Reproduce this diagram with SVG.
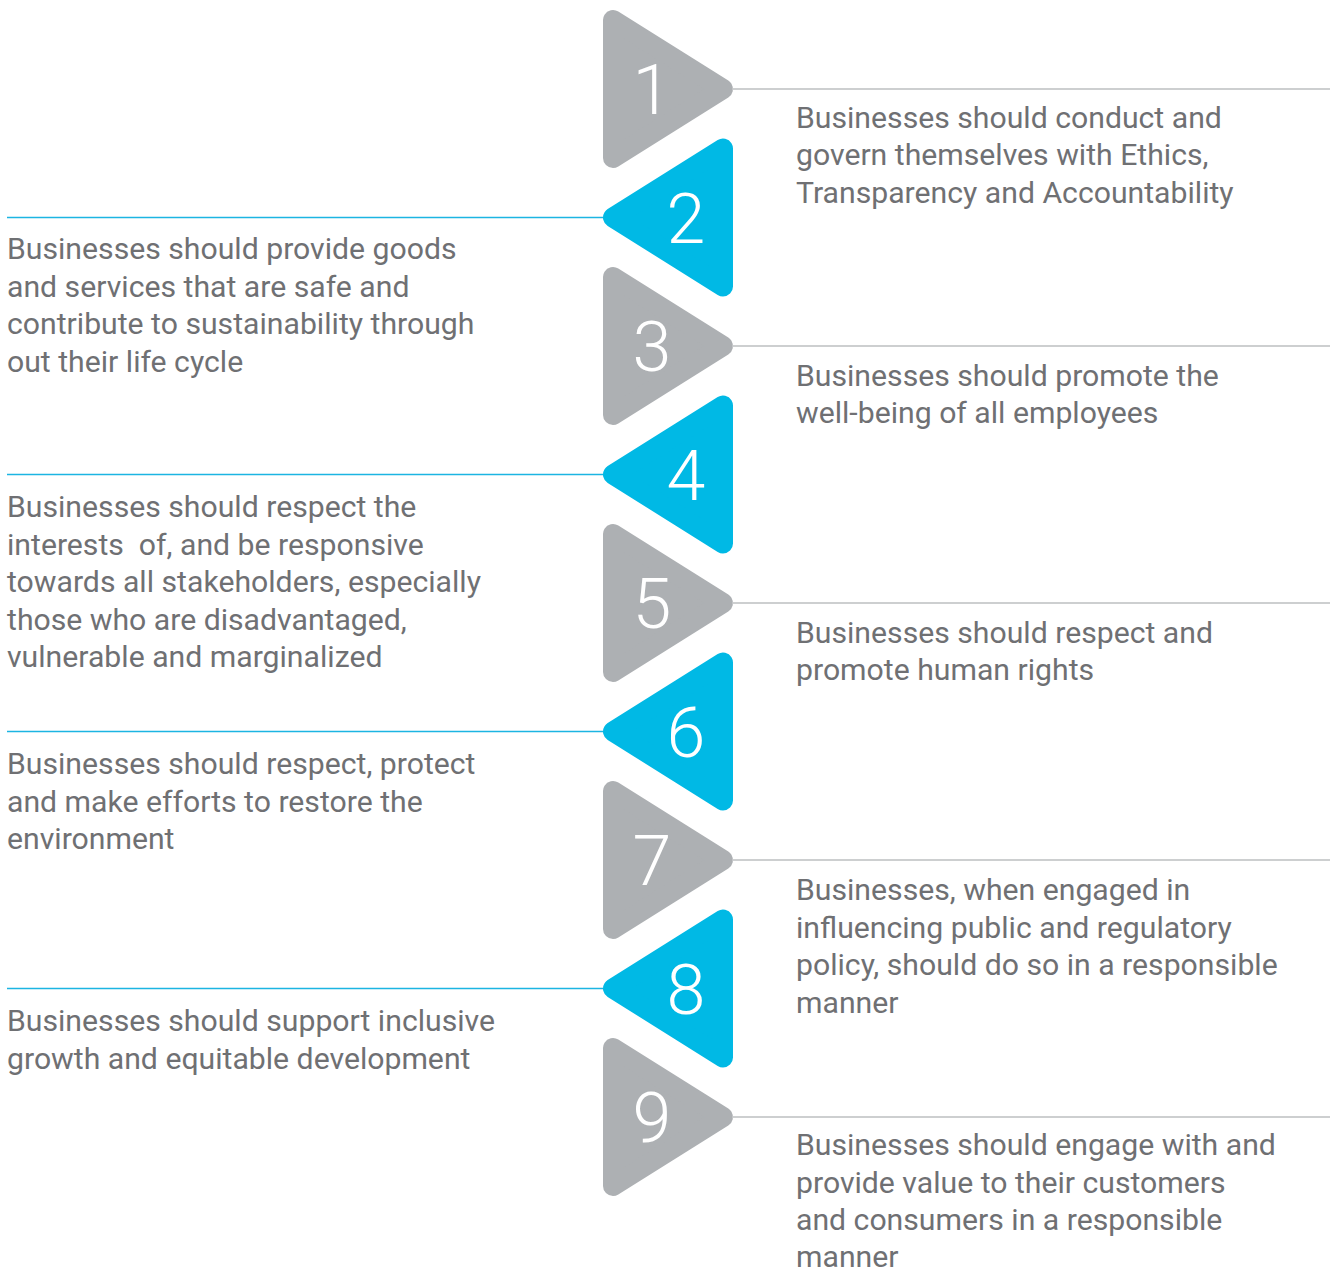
<svg xmlns="http://www.w3.org/2000/svg" width="1330" height="1272" viewBox="0 0 1330 1272">
  <style>
    .tri { stroke-width: 20; stroke-linejoin: round; }
    .grey { fill: #ADB0B3; stroke: #ADB0B3; }
    .blue { fill: #00B9E5; stroke: #00B9E5; }
    .num { font-family: Roboto, "Open Sans", sans-serif; font-weight: 300; font-size: 70px; fill: #FFFFFF; text-anchor: middle; }
    .txt { font-family: Roboto, "Liberation Sans", sans-serif; font-size: 30.2px; fill: #6F7073; }
    .lg { stroke: #BDBFC1; stroke-width: 1.5; fill: none; }
    .lb { stroke: #1CB5E2; stroke-width: 1.5; fill: none; }
  </style>

  <!-- leader lines from each marker to its statement -->
  <g id="connectors">
    <line class="lg" x1="733" y1="89" x2="1330" y2="89"/>
    <line class="lb" x1="7" y1="217.5" x2="603" y2="217.5"/>
    <line class="lg" x1="733" y1="346" x2="1330" y2="346"/>
    <line class="lb" x1="7" y1="474.5" x2="603" y2="474.5"/>
    <line class="lg" x1="733" y1="603" x2="1330" y2="603"/>
    <line class="lb" x1="7" y1="731.5" x2="603" y2="731.5"/>
    <line class="lg" x1="733" y1="860" x2="1330" y2="860"/>
    <line class="lb" x1="7" y1="988.5" x2="603" y2="988.5"/>
    <line class="lg" x1="733" y1="1117" x2="1330" y2="1117"/>
  </g>

  <!-- principle 1 -->
  <g id="node1">
    <polygon class="tri grey" points="613,20 613,158 723,89"/>
    <text class="num" x="652" y="114">1</text>
    <text class="txt" x="796" y="127.5">
      <tspan x="796">Businesses should conduct and</tspan>
      <tspan x="796" dy="37.5">govern themselves with Ethics,</tspan>
      <tspan x="796" dy="37.5">Transparency and Accountability</tspan>
    </text>
  </g>

  <!-- principle 2 -->
  <g id="node2">
    <polygon class="tri blue" points="723,148.5 723,286.5 613,217.5"/>
    <text class="num" x="686" y="242.5">2</text>
    <text class="txt" x="7" y="259">
      <tspan x="7">Businesses should provide goods</tspan>
      <tspan x="7" dy="37.5">and services that are safe and</tspan>
      <tspan x="7" dy="37.5">contribute to sustainability through</tspan>
      <tspan x="7" dy="37.5">out their life cycle</tspan>
    </text>
  </g>

  <!-- principle 3 -->
  <g id="node3">
    <polygon class="tri grey" points="613,277 613,415 723,346"/>
    <text class="num" x="652" y="371">3</text>
    <text class="txt" x="796" y="385.5">
      <tspan x="796">Businesses should promote the</tspan>
      <tspan x="796" dy="37.5">well-being of all employees</tspan>
    </text>
  </g>

  <!-- principle 4 -->
  <g id="node4">
    <polygon class="tri blue" points="723,405.5 723,543.5 613,474.5"/>
    <text class="num" x="686" y="499.5">4</text>
    <text class="txt" x="7" y="517" xml:space="preserve"><tspan x="7">Businesses should respect the</tspan><tspan x="7" dy="37.5">interests  of, and be responsive</tspan><tspan x="7" dy="37.5">towards all stakeholders, especially</tspan><tspan x="7" dy="37.5">those who are disadvantaged,</tspan><tspan x="7" dy="37.5">vulnerable and marginalized</tspan></text>
  </g>

  <!-- principle 5 -->
  <g id="node5">
    <polygon class="tri grey" points="613,534 613,672 723,603"/>
    <text class="num" x="652" y="628">5</text>
    <text class="txt" x="796" y="642.5">
      <tspan x="796">Businesses should respect and</tspan>
      <tspan x="796" dy="37.5">promote human rights</tspan>
    </text>
  </g>

  <!-- principle 6 -->
  <g id="node6">
    <polygon class="tri blue" points="723,662.5 723,800.5 613,731.5"/>
    <text class="num" x="686" y="756.5">6</text>
    <text class="txt" x="7" y="774">
      <tspan x="7">Businesses should respect, protect</tspan>
      <tspan x="7" dy="37.5">and make efforts to restore the</tspan>
      <tspan x="7" dy="37.5">environment</tspan>
    </text>
  </g>

  <!-- principle 7 -->
  <g id="node7">
    <polygon class="tri grey" points="613,791 613,929 723,860"/>
    <text class="num" x="652" y="885">7</text>
    <text class="txt" x="796" y="900">
      <tspan x="796">Businesses, when engaged in</tspan>
      <tspan x="796" dy="37.5">influencing public and regulatory</tspan>
      <tspan x="796" dy="37.5">policy, should do so in a responsible</tspan>
      <tspan x="796" dy="37.5">manner</tspan>
    </text>
  </g>

  <!-- principle 8 -->
  <g id="node8">
    <polygon class="tri blue" points="723,919.5 723,1057.5 613,988.5"/>
    <text class="num" x="686" y="1013.5">8</text>
    <text class="txt" x="7" y="1031">
      <tspan x="7">Businesses should support inclusive</tspan>
      <tspan x="7" dy="37.5">growth and equitable development</tspan>
    </text>
  </g>

  <!-- principle 9 -->
  <g id="node9">
    <polygon class="tri grey" points="613,1048 613,1186 723,1117"/>
    <text class="num" x="652" y="1142">9</text>
    <text class="txt" x="796" y="1155">
      <tspan x="796">Businesses should engage with and</tspan>
      <tspan x="796" dy="37.5">provide value to their customers</tspan>
      <tspan x="796" dy="37">and consumers in a responsible</tspan>
      <tspan x="796" dy="37">manner</tspan>
    </text>
  </g>
</svg>
